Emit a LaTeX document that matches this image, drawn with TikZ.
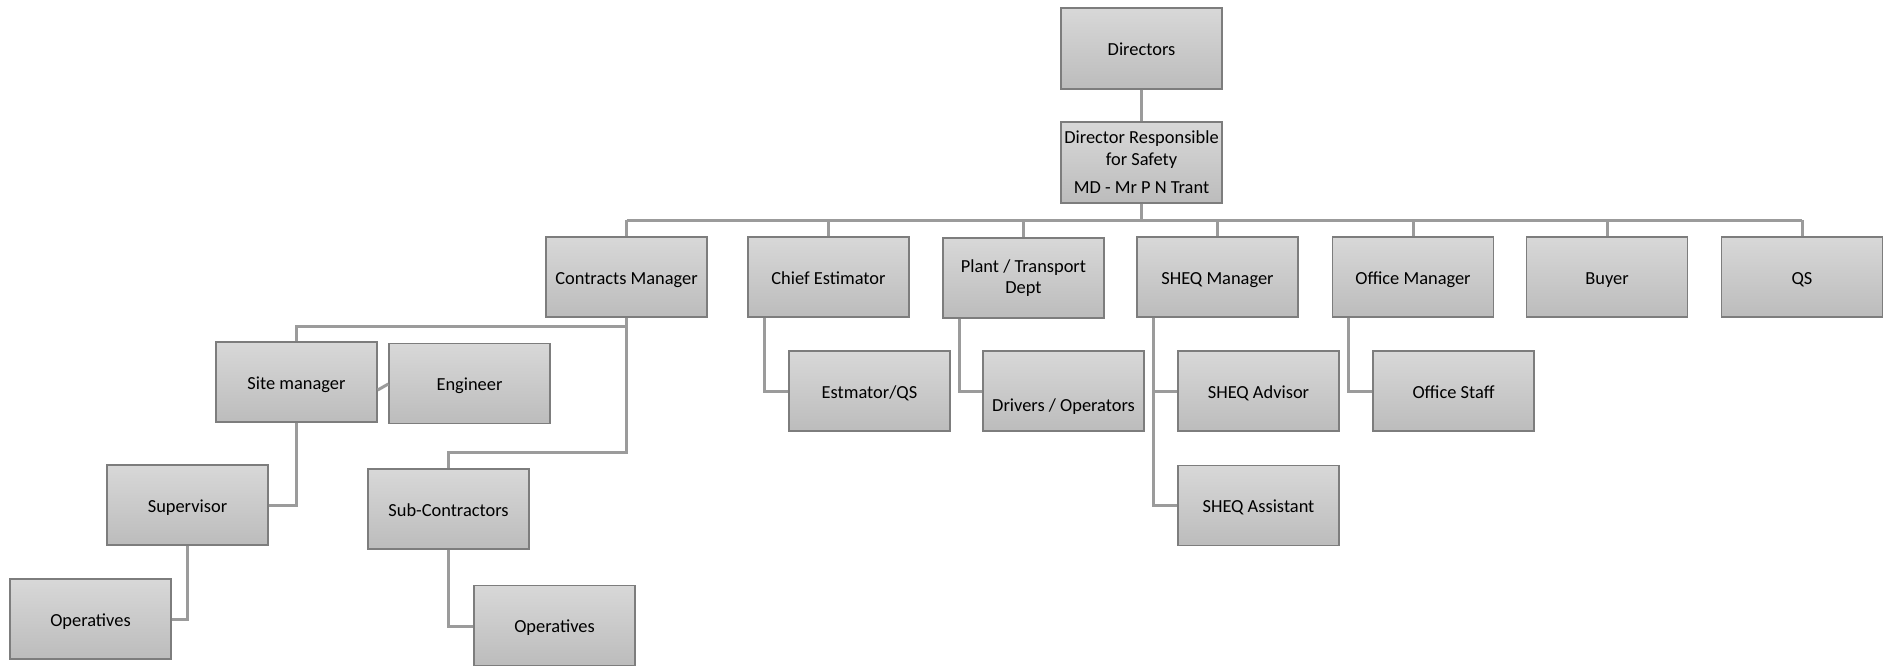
\documentclass[tikz,border=0pt]{standalone}
\usepackage{fontspec}
\setmainfont{Carlito}
\usetikzlibrary{calc}
\definecolor{boxtop}{RGB}{216,216,216}
\definecolor{boxbot}{RGB}{188,188,188}
\definecolor{boxline}{RGB}{125,125,125}
\definecolor{conncol}{RGB}{155,155,155}
\tikzset{
  orgbox/.style={rectangle, draw=boxline, line width=1.4pt, top color=boxtop, bottom color=boxbot,
    minimum width=161pt, minimum height=80pt, inner sep=2pt, align=center,
    font=\fontsize{18.4pt}{21.5pt}\selectfont, text=black},
  oneline/.style={orgbox, text height=14pt, text depth=0pt},
  conn/.style={draw=conncol, line width=3pt}
}
\begin{document}
\begin{tikzpicture}[x=1pt,y=-1pt]
\useasboundingbox (0,0) rectangle (1883,666);
% top
\node[oneline, minimum height=81pt] (dir) at (1141.5,48.5) {Directors};
\node[orgbox, minimum height=81pt] (drs) at (1141.5,162.5) {Director Responsible\\for Safety\\[7pt]MD - Mr P N Trant};
% level 1
\node[oneline] (cm) at (626.5,277) {Contracts Manager};
\node[oneline] (ce) at (828.5,277) {Chief Estimator};
\node[orgbox] (pt) at (1023.5,278) {Plant / Transport\\Dept};
\node[oneline] (sheq) at (1217.5,277) {SHEQ Manager};
\node[oneline] (om) at (1413,277) {Office Manager};
\node[oneline] (buyer) at (1607,277) {Buyer};
\node[oneline] (qs) at (1802,277) {QS};
% level 2 right
\node[oneline] (est) at (869.5,391) {Estmator/QS};
\node[orgbox] (drv) at (1063.5,391) {\raisebox{-20pt}[0pt][0pt]{Drivers / Operators}};
\node[oneline] (adv) at (1258.5,391) {SHEQ Advisor};
\node[oneline] (asst) at (1258.5,505.5) {SHEQ Assistant};
\node[oneline] (staff) at (1453.5,391) {Office Staff};
% left branch
\node[oneline] (site) at (296.5,382) {Site manager};
\node[oneline] (eng) at (469.5,383.5) {Engineer};
\node[oneline] (sup) at (187.5,505) {Supervisor};
\node[oneline] (ops1) at (90.5,619) {Operatives};
\node[oneline] (sub) at (448.5,509) {Sub-Contractors};
\node[oneline] (ops2) at (554.5,625.5) {Operatives};
% bus
\coordinate (busl) at (626.5,220);
\coordinate (busr) at (1802,220);
\draw[conn] (dir.south) -- (drs.north);
\draw[conn] (drs.south) -- (drs.south |- busl);
\draw[conn] (busl) -- (busr);
\foreach \n in {cm,ce,pt,sheq,om,buyer,qs}{
  \draw[conn] (\n.north |- busl) -- (\n.north);
}
% right children
\draw[conn] ([xshift=17pt]ce.south west) |- (est.west);
\draw[conn] ([xshift=17pt]pt.south west) |- (drv.west);
\draw[conn] ([xshift=17pt]sheq.south west) |- (adv.west);
\draw[conn] ([xshift=17pt]sheq.south west) |- (asst.west);
\draw[conn] ([xshift=17pt]om.south west) |- (staff.west);
% left children
\coordinate (cmsplit) at (626.5,326);
\draw[conn] (cm.south) -- (cmsplit) -| (site.north);
\coordinate (cmsub) at (626.5,452);
\draw[conn] (cm.south) -- (cmsub) -| (sub.north);
\draw[conn] ([yshift=-8pt]site.east) -- ([yshift=-0.5pt]eng.west);
\draw[conn] (site.south) |- (sup.east);
\draw[conn] (sup.south) |- (ops1.east);
\draw[conn] (sub.south) |- ([yshift=-1pt]ops2.west);
\end{tikzpicture}
\end{document}
